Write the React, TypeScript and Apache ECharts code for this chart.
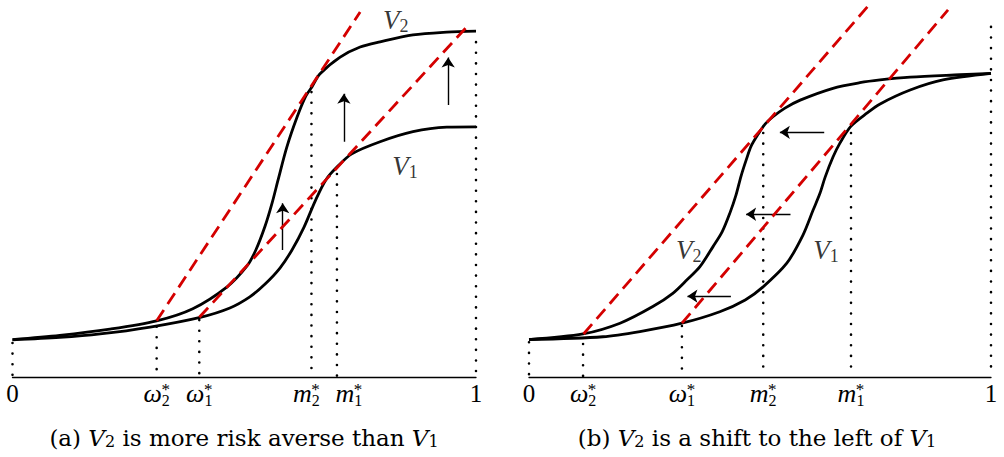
import React, { useEffect, useRef } from "react";
import * as echarts from "echarts";

// ---------- Panel (a): V2 is more risk averse than V1 ----------
const aV1: number[][] = [
  [0, 0.107], [0.102, 0.114], [0.189, 0.124], [0.297, 0.144], [0.405, 0.172],
  [0.469, 0.199], [0.512, 0.231], [0.545, 0.268], [0.577, 0.314], [0.603, 0.366],
  [0.629, 0.432], [0.653, 0.507], [0.676, 0.568], [0.7, 0.605], [0.732, 0.643],
  [0.793, 0.678], [0.864, 0.707], [0.937, 0.72], [1, 0.721],
];
const aV2: number[][] = [
  [0, 0.108], [0.102, 0.12], [0.21, 0.138], [0.311, 0.162], [0.389, 0.197],
  [0.463, 0.26], [0.506, 0.32], [0.525, 0.366], [0.545, 0.435], [0.56, 0.501],
  [0.573, 0.568], [0.592, 0.663], [0.614, 0.749], [0.633, 0.81], [0.646, 0.836],
  [0.663, 0.873], [0.707, 0.922], [0.75, 0.951], [0.793, 0.966], [0.864, 0.986],
  [0.937, 0.994], [1, 0.997],
];
const aTickValues = [0, 0.311, 0.403, 0.645, 0.7, 1];
const aTickBase = ["0", "ω", "ω", "m", "m", "1"];
const aTickSub = ["", "2", "1", "2", "1", ""];
const aDropTop = [0.098, 0.145, 0.164, 0.821, 0.585, 0.965];
const aTangents: number[][][] = [
  [[0.311, 0.162], [0.75, 1.052]],
  [[0.403, 0.172], [0.987, 1.019]],
];
const aArrows: number[][][] = [
  [[0.583, 0.366], [0.583, 0.501]],
  [[0.715, 0.678], [0.715, 0.816]],
  [[0.94, 0.784], [0.94, 0.921]],
];
const aCurveNames = ["2", "1"];
const aCurveLabelPos: number[][] = [[0.827, 1.029], [0.847, 0.608]];
const aCaption = "(a) {v|V}{s|2} is more risk averse than {v|V}{s|1}";

// ---------- Panel (b): V2 is a shift to the left of V1 ----------
const bV1: number[][] = [
  [0, 0.108], [0.16, 0.116], [0.24, 0.131], [0.331, 0.155], [0.413, 0.188],
  [0.468, 0.222], [0.506, 0.259], [0.558, 0.328], [0.593, 0.409], [0.615, 0.481],
  [0.63, 0.53], [0.641, 0.576], [0.658, 0.634], [0.673, 0.674], [0.697, 0.723],
  [0.732, 0.761], [0.76, 0.787], [0.825, 0.827], [0.896, 0.856], [1, 0.875],
];
const bV2: number[][] = [
  [0, 0.108], [0.117, 0.124], [0.197, 0.155], [0.268, 0.203], [0.312, 0.242],
  [0.342, 0.28], [0.37, 0.318], [0.398, 0.375], [0.418, 0.418], [0.435, 0.473],
  [0.448, 0.524], [0.459, 0.579], [0.47, 0.625], [0.481, 0.666], [0.496, 0.7],
  [0.511, 0.729], [0.528, 0.75], [0.554, 0.775], [0.587, 0.798], [0.658, 0.832],
  [0.716, 0.848], [0.76, 0.856], [0.825, 0.864], [0.933, 0.871], [1, 0.875],
];
const bTickValues = [0, 0.117, 0.331, 0.507, 0.697, 1];
const bTickBase = ["0", "ω", "ω", "m", "m", "1"];
const bTickSub = ["", "2", "1", "2", "1", ""];
const bDropTop = [0.1, 0.095, 0.147, 0.703, 0.703, 1.009];
const bTangents: number[][][] = [
  [[0.118, 0.124], [0.734, 1.069]],
  [[0.331, 0.155], [0.907, 1.058]],
];
const bArrows: number[][][] = [
  [[0.639, 0.705], [0.543, 0.705]],
  [[0.566, 0.469], [0.47, 0.469]],
  [[0.437, 0.233], [0.343, 0.233]],
];
const bCurveNames = ["2", "1"];
const bCurveLabelPos: number[][] = [[0.346, 0.366], [0.643, 0.366]];
const bCaption = "(b) {v|V}{s|2} is a shift to the left of {v|V}{s|1}";

// ---------- layout / style constants ----------
const Y_MAX = 1.08;
const UNIT = 347;
const AXIS_Y = 377;
const SERIF = "'Liberation Serif', 'DejaVu Serif', serif";
const CAPTION_FONT = "'DejaVu Serif', 'Liberation Serif', serif";
const RED = "#d40000";

const spacerRich: Record<string, any> = {};
for (let w = 0; w <= 80; w++) spacerRich["g" + w] = { width: w, fontSize: 10 };

const tickRich: Record<string, any> = {
  ...spacerRich,
  n: { fontFamily: SERIF, fontSize: 25, lineHeight: 30, color: "#000" },
  w: { fontFamily: SERIF, fontStyle: "italic", fontSize: 26, lineHeight: 30, color: "#000" },
  s: { fontFamily: SERIF, fontSize: 16, lineHeight: 12, verticalAlign: "bottom", color: "#000" },
  st: { fontFamily: SERIF, fontSize: 17, lineHeight: 14, color: "#000" },
};

const nearest = (vals: number[], v: number) => {
  let bi = 0;
  vals.forEach((x, i) => {
    if (Math.abs(x - v) < Math.abs(vals[bi] - v)) bi = i;
  });
  return bi;
};

function mainFormatter(vals: number[], bases: string[], subs: string[], shifts: number[]) {
  return (v: number) => {
    const i = nearest(vals, v);
    const sh = shifts[i];
    let s = "";
    if (sh > 0) s += `{g${2 * sh}| }`;
    s += /[0-9]/.test(bases[i]) ? `{n|${bases[i]}}` : `{w|${bases[i]}}`;
    if (subs[i]) s += `{s|${subs[i]}}`;
    if (sh < 0) s += `{g${-2 * sh}| }`;
    return s;
  };
}
function starFormatter(vals: number[], subs: string[], shifts: number[]) {
  return (v: number) => {
    const i = nearest(vals, v);
    if (!subs[i]) return "";
    const off = shifts[i] + 9;
    return `{g${2 * off}| }{st|*}`;
  };
}

function xAxes(grid: number, vals: number[], bases: string[], subs: string[], shifts: number[]) {
  const common = {
    gridIndex: grid, type: "value", min: 0, max: 1, position: "bottom",
    axisTick: { show: false }, splitLine: { show: false },
  };
  return [
    {
      ...common,
      axisLine: { show: true, onZero: false, lineStyle: { color: "#000", width: 1.3 } },
      axisLabel: { customValues: vals, formatter: mainFormatter(vals, bases, subs, shifts), margin: 1, rich: tickRich },
    },
    {
      ...common,
      axisLine: { show: false },
      axisLabel: { customValues: vals, formatter: starFormatter(vals, subs, shifts), margin: 5, rich: tickRich },
    },
  ];
}

function panelSeries(
  xi: number, yi: number, v1: number[][], v2: number[][], ticks: number[], drops: number[],
  tangents: number[][][], arrows: number[][][], names: string[], namePos: number[][],
) {
  const series: any[] = [];
  ticks.forEach((x, i) => {
    series.push({
      type: "line", xAxisIndex: xi, yAxisIndex: yi, silent: true, showSymbol: false,
      data: [[x, drops[i]], [x, 0]],
      lineStyle: { color: "#000", width: 2.6, type: [0.01, 10.6], cap: "round" },
    });
  });
  [v1, v2].forEach((d) => {
    series.push({
      type: "line", xAxisIndex: xi, yAxisIndex: yi, silent: true, showSymbol: false,
      smooth: 0.3, data: d, lineStyle: { color: "#000", width: 2.8 },
    });
  });
  tangents.forEach((d) => {
    series.push({
      type: "line", xAxisIndex: xi, yAxisIndex: yi, silent: true, showSymbol: false,
      data: d, lineStyle: { color: RED, width: 2.8, type: [13, 7] },
    });
  });
  series.push({
    type: "lines", coordinateSystem: "cartesian2d", xAxisIndex: xi, yAxisIndex: yi, silent: true,
    symbol: ["none", "arrow"], symbolSize: [7, 10],
    lineStyle: { color: "#000", width: 1.4, opacity: 1, curveness: 0 },
    data: arrows.map((c) => ({ coords: c })),
  });
  series.push({
    type: "scatter", xAxisIndex: xi, yAxisIndex: yi, silent: true, symbolSize: 1,
    itemStyle: { color: "transparent" },
    data: namePos.map((p, i) => ({ value: p, name: names[i] })),
    label: {
      show: true, position: "inside",
      formatter: (p: any) => `{v|V}{s|${p.name}}`,
      rich: {
        v: { fontFamily: SERIF, fontStyle: "italic", fontSize: 27, lineHeight: 30, color: "#000" },
        s: { fontFamily: SERIF, fontSize: 18, lineHeight: 12, verticalAlign: "bottom", color: "#000" },
      },
    },
  });
  return series;
}

const captionRich = {
  v: { fontFamily: CAPTION_FONT, fontStyle: "italic", fontSize: 23, fill: "#000" },
  s: { fontFamily: CAPTION_FONT, fontSize: 16, fill: "#000", verticalAlign: "bottom", lineHeight: 16 },
};

export default function App() {
  const ref = useRef<HTMLDivElement>(null);
  useEffect(() => {
    if (!ref.current) return;
    const chart = echarts.init(ref.current, undefined, { renderer: "svg" });
    const gTop = AXIS_Y - UNIT * Y_MAX;
    const gH = UNIT * Y_MAX;
    chart.setOption({
      animation: false,
      backgroundColor: "#fff",
      textStyle: { fontFamily: SERIF },
      grid: [
        { left: 12.5, width: 463.5, top: gTop, height: gH },
        { left: 529, width: 462, top: gTop, height: gH },
      ],
      xAxis: [
        ...xAxes(0, aTickValues, aTickBase, aTickSub, [0, 0, 0, -5, 12, 0]),
        ...xAxes(1, bTickValues, bTickBase, bTickSub, [0, 0, 0, 0, 0, 0]),
      ],
      yAxis: [
        { gridIndex: 0, type: "value", min: 0, max: Y_MAX, show: false },
        { gridIndex: 1, type: "value", min: 0, max: Y_MAX, show: false },
      ],
      series: [
        ...panelSeries(0, 0, aV1, aV2, aTickValues, aDropTop, aTangents, aArrows, aCurveNames, aCurveLabelPos),
        ...panelSeries(2, 1, bV1, bV2, bTickValues, bDropTop, bTangents, bArrows, bCurveNames, bCurveLabelPos),
      ],
      graphic: [
        {
          type: "text", x: 244, y: 438,
          style: {
            text: aCaption, rich: captionRich, fontFamily: CAPTION_FONT, fontSize: 23, fill: "#000",
            align: "center", verticalAlign: "middle",
          },
        },
        {
          type: "text", x: 757, y: 438,
          style: {
            text: bCaption, rich: captionRich, fontFamily: CAPTION_FONT, fontSize: 23, fill: "#000",
            align: "center", verticalAlign: "middle",
          },
        },
      ],
    });
    return () => chart.dispose();
  }, []);
  return (
    <div
      ref={ref}
      style={{ position: "absolute", left: 0, top: 0, width: 1004, height: 457, background: "#fff" }}
    />
  );
}
